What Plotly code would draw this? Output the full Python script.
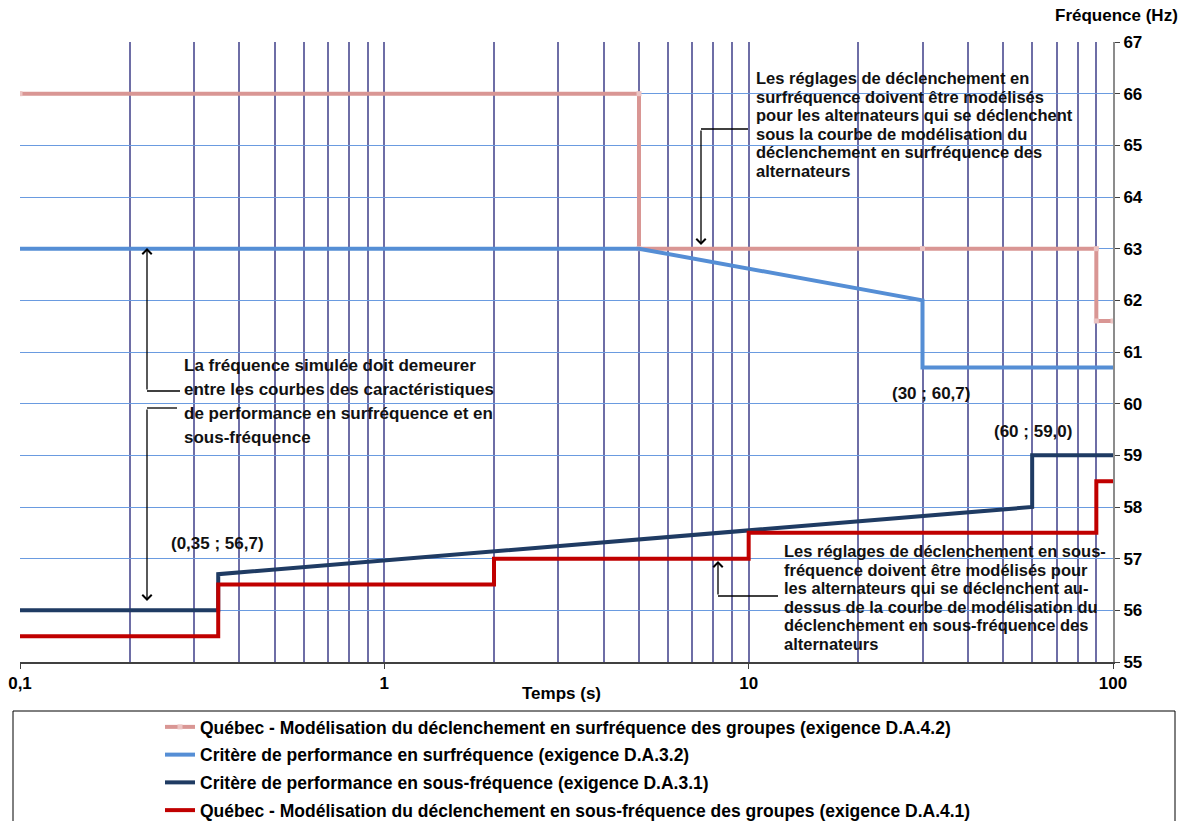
import plotly.graph_objects as go

# ---------------- data ----------------
x_qc_sur = [0.1, 5, 5, 30, 90, 90, 100]
y_qc_sur = [66, 66, 63, 63, 63, 61.6, 61.6]

x_perf_sur = [0.1, 5, 30, 30, 100]
y_perf_sur = [63, 63, 62, 60.7, 60.7]

x_perf_sous = [0.1, 0.35, 0.35, 60, 60, 100]
y_perf_sous = [56, 56, 56.7, 58, 59, 59]

x_qc_sous = [0.1, 0.35, 0.35, 2, 2, 10, 10, 90, 90, 100]
y_qc_sous = [55.5, 55.5, 56.5, 56.5, 57, 57, 57.5, 57.5, 58.5, 58.5]

names = [
    "Québec - Modélisation du déclenchement en surfréquence des groupes (exigence D.A.4.2)",
    "Critère de performance en surfréquence (exigence D.A.3.2)",
    "Critère de performance en sous-fréquence (exigence D.A.3.1)",
    "Québec - Modélisation du déclenchement en sous-fréquence des groupes (exigence D.A.4.1)",
]

x_major = [0.1, 1, 10, 100]
x_major_text = ["0,1", "1", "10", "100"]
x_minor = [m * d for d in [0.1, 1, 10] for m in range(2, 10)]
y_ticks = list(range(55, 68))

# ---------------- layout helpers ----------------
W, H = 1188, 821
L, R, T, B = 20, 1113, 42, 662


def px(xp):
    return (xp - L) / (R - L)


def py(yp):
    return (B - yp) / (B - T)


fig = go.Figure()
fig.add_trace(go.Scatter(x=x_qc_sur, y=y_qc_sur, name=names[0], mode="lines+markers",
                         line=dict(color="#D99694", width=4),
                         marker=dict(symbol="square", size=5, color="#ECC4C3"),
                         legendgroup="a"))
fig.add_trace(go.Scatter(x=x_perf_sur, y=y_perf_sur, name=names[1], mode="lines",
                         line=dict(color="#558ED5", width=4), legendgroup="b"))
fig.add_trace(go.Scatter(x=x_perf_sous, y=y_perf_sous, name=names[2], mode="lines",
                         line=dict(color="#1F3B63", width=4), legendgroup="c"))
fig.add_trace(go.Scatter(x=x_qc_sous, y=y_qc_sous, name=names[3], mode="lines",
                         line=dict(color="#C00000", width=4), legendgroup="d"))

TXT = "Liberation Sans"
font_small = dict(family=TXT, size=16.5, color="#111111")
font_big = dict(family=TXT, size=17, color="#111111")
ax_font = dict(family="Liberation Sans", size=17, color="#000000", weight="bold")

shapes = []
annotations = []

# white boxes (cut the gridlines)
boxes = [
    (748, 67, 1092, 193),
    (180, 353, 495, 455),
    (778, 540, 1108, 655),
    (165, 530, 275, 553),
    (887, 372, 980, 413),
    (995, 413, 1080, 446),
]
for x0, y0, x1, y1 in boxes:
    shapes.append(dict(type="rect", xref="paper", yref="paper", x0=px(x0), x1=px(x1),
                       y0=py(y1), y1=py(y0), fillcolor="white", line=dict(width=0),
                       layer="between"))

# text blocks
blocks = [
    (754, 78, 18.5, font_small, ["Les réglages de déclenchement en",
                                 "surfréquence doivent être modélisés",
                                 "pour les alternateurs qui se déclenchent",
                                 "sous la courbe de modélisation du",
                                 "déclenchement en surfréquence des",
                                 "alternateurs"]),
    (182, 365, 24, font_big, ["La fréquence simulée doit demeurer",
                              "entre les courbes des caractéristiques",
                              "de performance en surfréquence et en",
                              "sous-fréquence"]),
    (782, 551, 18.5, font_small, ["Les réglages de déclenchement en sous-",
                                  "fréquence doivent être modélisés pour",
                                  "les alternateurs qui se déclenchent au-",
                                  "dessus de la courbe de modélisation du",
                                  "déclenchement en sous-fréquence des",
                                  "alternateurs"]),
]
for x0, y0, dy, fnt, lines in blocks:
    for i, t in enumerate(lines):
        annotations.append(dict(text="<b>" + t + "</b>", x=px(x0), y=py(y0 + i * dy),
                                xref="paper", yref="paper", xanchor="left", yanchor="middle",
                                showarrow=False, font=fnt))

# point labels
labels = [((217, 543), "(0,35 ; 56,7)"), ((931, 393), "(30 ; 60,7)"), ((1033, 431), "(60 ; 59,0)")]
for (xc, yc), t in labels:
    annotations.append(dict(text="<b>" + t + "</b>", x=px(xc), y=py(yc), xref="paper", yref="paper",
                            xanchor="center", yanchor="middle", showarrow=False, font=font_big))

# arrows: (tip x, tip y, tail y, horizontal end x)
arrows = [
    (701, 245, 129, 748),
    (147, 248, 391, 180),
    (147, 601, 408, 177),
    (718, 561, 596, 778),
]
for xt, yt, ytail, xh in arrows:
    annotations.append(dict(text="", x=px(xt), y=py(yt), xref="paper", yref="paper",
                            showarrow=True, ax=0, ay=ytail - yt, arrowhead=4,
                            arrowsize=1.4, arrowwidth=1.3, arrowcolor="#000000", standoff=0))
    shapes.append(dict(type="line", xref="paper", yref="paper", x0=px(xt), x1=px(xh),
                       y0=py(ytail), y1=py(ytail), line=dict(color="#000000", width=1.3),
                       layer="above"))

# axis titles
annotations.append(dict(text="<b>Fréquence (Hz)</b>", x=px(1180), y=py(15), xref="paper",
                        yref="paper", xanchor="right", yanchor="middle", showarrow=False,
                        font=dict(family="Liberation Sans", size=17, color="#000")))
annotations.append(dict(text="<b>Temps (s)</b>", x=px(561), y=py(693), xref="paper",
                        yref="paper", xanchor="center", yanchor="middle", showarrow=False,
                        font=dict(family="Liberation Sans", size=17, color="#000")))

# legend frame
shapes.append(dict(type="rect", xref="paper", yref="paper", x0=px(13), x1=px(1175),
                   y0=py(830), y1=py(711), line=dict(color="#000000", width=1),
                   fillcolor="rgba(0,0,0,0)", layer="above"))

fig.update_layout(
    width=W, height=H,
    margin=dict(l=L, r=W - R, t=T, b=H - B, autoexpand=False),
    paper_bgcolor="white", plot_bgcolor="white",
    shapes=shapes, annotations=annotations,
    showlegend=True,
    legend=dict(x=px(160), y=py(709), xanchor="left", yanchor="top",
                font=dict(family="Liberation Sans", size=17.5, color="#000", weight="bold"),
                bgcolor="rgba(0,0,0,0)", borderwidth=0, tracegroupgap=2,
                itemwidth=30),
    xaxis=dict(type="log", range=[-1, 2], tickvals=x_major, ticktext=x_major_text,
               tickfont=ax_font, ticks="outside", ticklen=5, tickcolor="#404040",
               showgrid=True, gridcolor="#6E6EA6", gridwidth=1.6,
               minor=dict(tickvals=x_minor, showgrid=True, gridcolor="#6E6EA6", gridwidth=1.6,
                          ticks=""),
               showline=True, linecolor="#404040", linewidth=1.5, zeroline=False),
    yaxis=dict(range=[55, 67], tickvals=y_ticks, side="right", tickfont=ax_font,
               ticks="outside", ticklen=5, tickcolor="#404040",
               showgrid=True, gridcolor="#6A9BE0", gridwidth=1.2,
               showline=True, linecolor="#8C8C8C", linewidth=2, zeroline=False),
)

fig.write_html("out.html", config={"displayModeBar": False},
               post_script="document.body.style.margin='0';document.body.style.overflow='hidden';")
